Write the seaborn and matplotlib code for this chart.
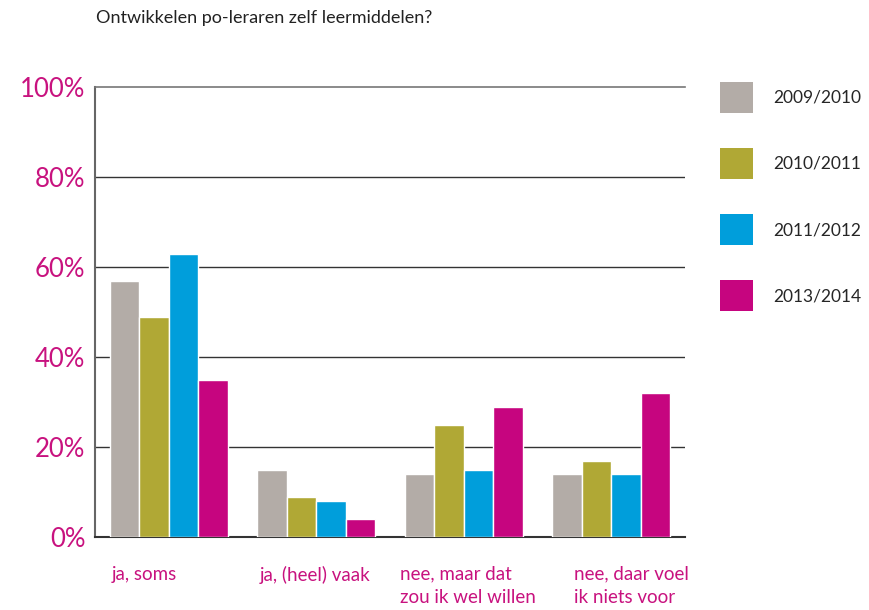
import pandas as pd
import numpy as np
import seaborn as sns
import matplotlib.pyplot as plt
from matplotlib.patches import Patch

# answer categories and school years
categories = ["ja, soms", "ja, (heel) vaak", "nee, maar dat\nzou ik wel willen", "nee, daar voel\nik niets voor"]
years = ["2009/2010", "2010/2011", "2011/2012", "2013/2014"]

# percentages
v_2009 = [57, 15, 14, 14]
v_2010 = [49, 9, 25, 17]
v_2011 = [63, 8, 15, 14]
v_2013 = [35, 4, 29, 32]

colors = ["#b3aca7", "#b0a835", "#009edb", "#c6057f"]
magenta = "#c8127f"

rows = []
for year, vals in zip(years, [v_2009, v_2010, v_2011, v_2013]):
    for cat, v in zip(categories, vals):
        rows.append({"categorie": cat, "jaar": year, "pct": v})
df = pd.DataFrame(rows)

sns.set_style("white")
plt.rcParams['font.family'] = ['Lato', 'DejaVu Sans']

fig = plt.figure(figsize=(8.69, 6.10), dpi=100)
ax = fig.add_axes([95 / 869, 1 - 537 / 610, 590 / 869, 450 / 610])

sns.barplot(data=df, x="categorie", y="pct", hue="jaar", palette=colors,
            width=0.8, edgecolor="white", linewidth=1.0, saturation=1,
            ax=ax, legend=False, zorder=3)

ax.set_ylim(0, 100)
ax.set_xlim(-0.5, 3.5)
ax.set_yticks([0, 20, 40, 60, 80, 100])
ax.set_yticklabels([f"{t}%" for t in [0, 20, 40, 60, 80, 100]], color=magenta, fontsize=18.5)
ax.tick_params(axis="y", length=0, pad=7)

# horizontal gridlines
for t in [20, 40, 60, 80]:
    ax.axhline(t, color="#333333", lw=1.0, zorder=1)

# group separators as small ticks pointing inward
ax.set_xticks([0.5, 1.5, 2.5, 3.5])
ax.set_xticklabels([])
ax.tick_params(axis="x", direction="in", length=5, width=1.3, color="#444444")

ax.set_xlabel("")
ax.set_ylabel("")
ax.spines["right"].set_visible(False)
ax.spines["top"].set_color("#777777")
ax.spines["top"].set_linewidth(1.2)
ax.spines["left"].set_color("#666666")
ax.spines["left"].set_linewidth(1.5)
ax.spines["bottom"].set_color("#333333")
ax.spines["bottom"].set_linewidth(1.5)

# category labels, left aligned under each group
label_x = [-0.385, 0.619, 1.568, 2.747]
for lx, cat in zip(label_x, categories):
    ax.text(lx, -0.064, cat, transform=ax.get_xaxis_transform(), ha="left", va="top",
            color=magenta, fontsize=13.5, linespacing=1.45)

fig.text(96 / 869, 1 - 18 / 610, "Ontwikkelen po-leraren zelf leermiddelen?",
         ha="left", va="center", fontsize=13, color="#222222")

handles = [Patch(facecolor=c, edgecolor="none") for c in colors]
fig.legend(handles, years, loc="upper left", bbox_to_anchor=(706 / 869, 1 - 68 / 610),
           frameon=False, fontsize=12.5, handlelength=1.9, handleheight=2.4,
           labelspacing=2.0, handletextpad=1.2, borderpad=0.3)

fig.savefig("out.png", dpi=100)
